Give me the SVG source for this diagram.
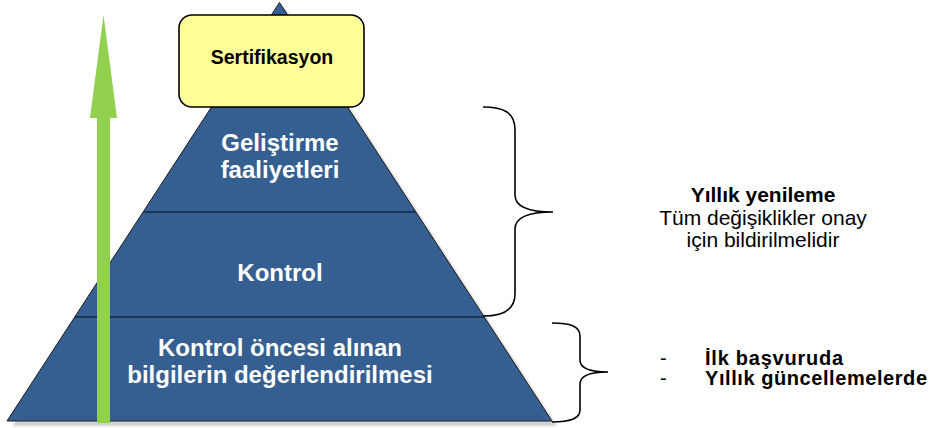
<svg xmlns="http://www.w3.org/2000/svg" width="932" height="428" viewBox="0 0 932 428">
  <defs>
    <filter id="blur" x="-5%" y="-5%" width="110%" height="110%">
      <feGaussianBlur stdDeviation="1.2"/>
    </filter>
  </defs>
  <style>
    text { font-family: "Liberation Sans", Arial, sans-serif; }
    .lvl { fill: #365F91; stroke: #1C1C1C; stroke-width: 1; }
    .div { stroke: #1B3556; stroke-width: 2; fill: none; }
    .wt { fill: #FFFFFF; font-weight: bold; font-size: 24px; text-anchor: middle; }
    .brace { fill: none; stroke: #000000; stroke-width: 1.6; }
    .rt { fill: #000000; font-size: 21px; }
    .rs { fill: #000000; font-size: 20px; }
    .b { font-weight: bold; }
  </style>
  <rect width="932" height="428" fill="#FFFFFF"/>

  <g id="pyramid">
    <polygon points="284.5,7.5 557,426 12,426" fill="#D2D2D2" filter="url(#blur)"/>
    <polygon class="lvl" points="279.5,2.5 552,421 7,421"/>
  </g>

  <g id="level-gelistirme">
    <text class="wt" x="280" y="151">Geliştirme</text>
    <text class="wt" x="280" y="178">faaliyetleri</text>
  </g>

  <g id="level-kontrol">
    <line class="div" x1="143" y1="212" x2="416" y2="212"/>
    <text class="wt" x="280" y="281">Kontrol</text>
  </g>

  <g id="level-oncesi">
    <line class="div" x1="75" y1="317" x2="484" y2="317"/>
    <text class="wt" x="280" y="356">Kontrol öncesi alınan</text>
    <text class="wt" x="280" y="383">bilgilerin değerlendirilmesi</text>
  </g>

  <g id="sertifikasyon">
    <rect x="179" y="15" width="185" height="92" rx="13" ry="13" fill="#FFFF99" stroke="#000000" stroke-width="1.6"/>
    <text x="272" y="64" text-anchor="middle" font-size="19.5" font-weight="bold" fill="#000000">Sertifikasyon</text>
  </g>

  <g id="green-arrow">
    <polygon points="103.5,15 117,118 110,118 110,423 97,423 97,118 90,118" fill="#92D050"/>
  </g>

  <g id="connectors">
    <path class="brace" d="M483,107 C503,107 515,112 515,130 L515,195 C515,207 530,212 553,212 C530,212 515,217 515,229 L515,294 C515,310 503,316 483,316"/>
    <path class="brace" d="M552,323 C570,323 580,326 580,336 L580,360 C580,368 590,372 608,372 C590,372 580,376 580,384 L580,410 C580,419 570,422 552,422"/>
  </g>

  <g id="note-yillik">
    <text class="rt b" x="763" y="202" text-anchor="middle">Yıllık yenileme</text>
    <text class="rt" x="763" y="225" text-anchor="middle">Tüm değişiklikler onay</text>
    <text class="rt" x="763" y="247" text-anchor="middle">için bildirilmelidir</text>
  </g>

  <g id="note-basvuru">
    <text class="rs" x="660" y="365">-</text>
    <text class="rs b" x="705" y="365" textLength="138" lengthAdjust="spacing">İlk başvuruda</text>
    <text class="rs" x="660" y="385">-</text>
    <text class="rs b" x="705" y="385" textLength="222" lengthAdjust="spacing">Yıllık güncellemelerde</text>
  </g>
</svg>
